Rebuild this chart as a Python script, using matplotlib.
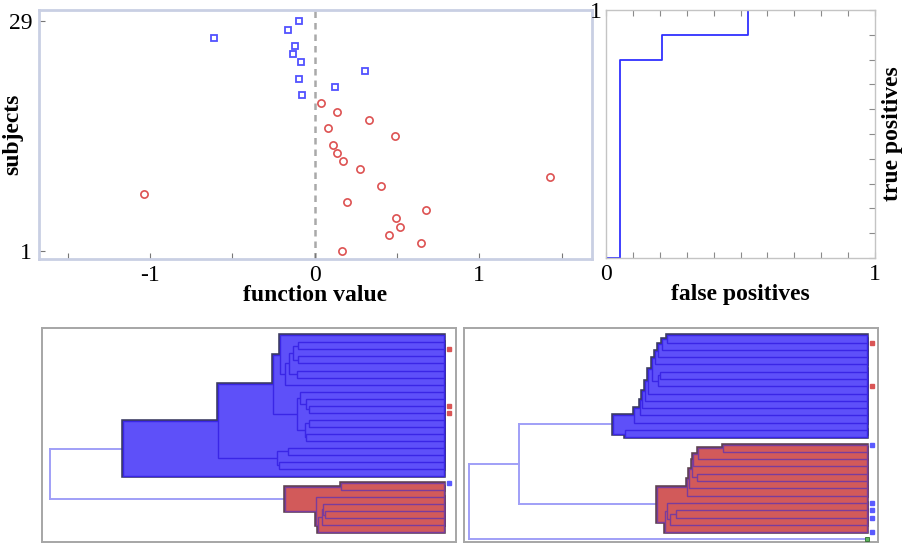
import numpy as np
import matplotlib
matplotlib.use('Agg')
import matplotlib.pyplot as plt
from matplotlib.patches import Rectangle

plt.rcParams['font.family'] = ['Liberation Serif', 'DejaVu Serif']

# ---------------- data ----------------
subjects = list(range(29, 0, -1))
function_value = [-0.093, -0.163, -0.612, -0.122, -0.132, -0.084, 0.305, -0.098, 0.126, -0.076,
                  0.041, 0.138, 0.328, 0.083, 0.489, 0.113, 0.133, 0.173, 0.273, 1.428,
                  0.401, -1.036, 0.196, 0.676, 0.494, 0.517, 0.452, 0.645, 0.165]
subject_class = ['B'] * 10 + ['R'] * 19

roc_fpr = [0.0, 0.053, 0.053, 0.21, 0.21, 0.527, 0.527, 1.0]
roc_tpr = [0.0, 0.0, 0.8, 0.8, 0.9, 0.9, 1.0, 1.0]

n_leaves = 29
# linkage: (child_a, child_b, merge height); new node ids start at n_leaves
left_links = [
    (1, 2, 0.372), (3, 4, 0.371), (29, 30, 0.3825), (5, 6, 0.373), (31, 32, 0.3934),
    (33, 7, 0.4036), (0, 34, 0.4162), (10, 11, 0.3426), (9, 36, 0.3503), (8, 37, 0.3668),
    (12, 13, 0.3419), (14, 15, 0.3503), (39, 40, 0.3528), (38, 41, 0.3739), (35, 42, 0.4348),
    (16, 17, 0.3959), (18, 19, 0.4188), (44, 45, 0.4246), (43, 46, 0.5736), (47, 20, 0.8155),
    (21, 22, 0.2622), (25, 26, 0.302), (24, 50, 0.3071), (51, 27, 0.3109), (52, 28, 0.319),
    (23, 53, 0.3249), (49, 54, 0.4036), (48, 55, 1.0),
]
left_cluster_roots = [48, 55]
left_cluster_colors = ['blue', 'red']
left_marker_rows = [2, 10, 11, 21]
left_marker_colors = ['red', 'red', 'red', 'blue']

right_links = [
    (0, 1, 0.502), (29, 2, 0.5146), (30, 3, 0.5229), (31, 4, 0.5313), (5, 6, 0.5188),
    (33, 7, 0.5246), (32, 34, 0.5396), (35, 8, 0.5505), (36, 9, 0.5564), (37, 10, 0.5631),
    (38, 11, 0.5706), (39, 12, 0.584), (13, 14, 0.6066), (40, 41, 0.6359),
    (15, 16, 0.3614), (43, 17, 0.4227), (44, 18, 0.4352), (19, 20, 0.4267), (45, 46, 0.4393),
    (47, 21, 0.446), (48, 22, 0.4518), (24, 25, 0.4787), (50, 26, 0.4938), (23, 51, 0.502),
    (52, 27, 0.5063), (49, 53, 0.5271), (42, 54, 0.8743), (55, 28, 1.0),
]
right_cluster_roots = [42, 54]
right_cluster_colors = ['blue', 'red']
right_singleton_leaf = 28
right_marker_rows = [1, 7, 15, 23, 24, 25, 27]
right_marker_colors = ['red', 'red', 'blue', 'blue', 'blue', 'blue', 'blue']

# ---------------- styles ----------------
BLUE_PT = '#5252ff'
RED_PT = '#dd5252'
STYLE = {
    'blue': dict(face='#5e50f9', line='#3a26e6', border='#3c3c62'),
    'red': dict(face='#d25a5a', line='#7a3c9c', border='#5e4250'),
}
MARK = {'blue': '#5a5aff', 'red': '#d95555'}
UPPER = '#a09ff7'
FS = 17

W, H = 902, 543
fig = plt.figure(figsize=(W / 100, H / 100), dpi=100)


def ax_px(x0, y0, x1, y1):
    return fig.add_axes([x0 / W, 1 - y1 / H, (x1 - x0) / W, (y1 - y0) / H])


# ---------------- top-left scatter ----------------
ax1 = ax_px(39, 10, 592, 258.5)
ax1.set_xlim(-1.675, 1.685)
ax1.set_ylim(0.1, 30.4)
ax1.axvline(0, color='#a9a9a9', lw=1.8, dashes=(2.6, 2.0), zorder=1)
for v, s, c in zip(function_value, subjects, subject_class):
    if c == 'B':
        ax1.plot(v, s, 's', ms=4.0, mfc='white', mec=BLUE_PT, mew=1.3, zorder=3)
    else:
        ax1.plot(v, s, 'o', ms=5.2, mfc='white', mec=RED_PT, mew=1.2, zorder=3)
for sp in ax1.spines.values():
    sp.set_color('#c9cfe3')
    sp.set_linewidth(2)
ax1.set_xticks([-1, 0, 1])
ax1.set_xticklabels(['-1', '0', '1'])
ax1.set_xticks([-1.5, -0.5, 0.5, 1.5], minor=True)
ax1.set_yticks([1, 29])
ax1.set_yticklabels(['1', '29'])
ax1.tick_params(which='both', direction='in', length=4, width=0.8, color='#777777',
                labelsize=FS, pad=5)
ax1.set_xlabel('function value', fontsize=FS, fontweight='bold')
ax1.set_ylabel('subjects', fontsize=FS, fontweight='bold')
ax1.xaxis.set_label_coords(0.5, -0.105)
ax1.yaxis.set_label_coords(-0.028, 0.5)

# ---------------- top-right ROC ----------------
ax2 = ax_px(606, 10, 875, 258)
ax2.plot(roc_fpr, roc_tpr, color='#3030ff', lw=1.3)
ax2.set_xlim(0, 1)
ax2.set_ylim(0, 1)
ticks = np.round(np.arange(0, 1.0001, 0.1), 1)
ax2.set_xticks(ticks)
ax2.set_xticklabels(['0'] + [''] * 9 + ['1'])
ax2.set_yticks(ticks)
ax2.set_yticklabels([''] * 10 + ['1'])
ax2.tick_params(direction='in', length=4, width=0.8, color='#8a8a8a', top=True, right=True,
                labelsize=FS, pad=4)
ax2.tick_params(axis='y', left=False, pad=3)
for sp in ax2.spines.values():
    sp.set_color('#c4c4c4')
    sp.set_linewidth(1)
ax2.set_xlabel('false positives', fontsize=FS, fontweight='bold')
ax2.xaxis.set_label_coords(0.5, -0.105)
ax2.yaxis.set_label_position('right')
ax2.set_ylabel('true positives', fontsize=FS, fontweight='bold', rotation=90)
ax2.yaxis.set_label_coords(1.025, 0.5)


# ---------------- dendrograms ----------------
def tree_layout(n, links):
    pos = {i: float(i) for i in range(n)}
    hgt = {i: 0.0 for i in range(n)}
    kids = {}
    for k, (a, b, h) in enumerate(links):
        nid = n + k
        pos[nid] = (pos[a] + pos[b]) / 2.0
        hgt[nid] = h
        kids[nid] = (a, b)
    return pos, hgt, kids


def subtree(node, kids):
    if node not in kids:
        return []
    a, b = kids[node]
    return [node] + subtree(a, kids) + subtree(b, kids)


def draw_tree(ax, n, links, roots, colors, mrows, mcols, mx):
    pos, hgt, kids = tree_layout(n, links)
    in_cluster = set()
    z = 3.0
    for r, cname in zip(roots, colors):
        st = STYLE[cname]
        nodes = sorted(subtree(r, kids), key=lambda k: -hgt[k])
        for k in nodes:
            a, b = kids[k]
            y0, y1 = sorted((pos[a], pos[b]))
            ax.add_patch(Rectangle((0, y0), hgt[k], y1 - y0, facecolor='none',
                                   edgecolor=st['border'], lw=2.6, zorder=2))
        for k in nodes:
            a, b = kids[k]
            y0, y1 = sorted((pos[a], pos[b]))
            z += 0.001
            ax.add_patch(Rectangle((0, y0), hgt[k], y1 - y0, facecolor=st['face'],
                                   edgecolor=st['line'], lw=1.0, zorder=z))
        in_cluster.update(nodes)
    for k, (a, b) in kids.items():
        if k in in_cluster:
            continue
        ax.plot([hgt[k], hgt[k]], [pos[a], pos[b]], color=UPPER, lw=1.4, zorder=1)
        for c in (a, b):
            ax.plot([hgt[k], hgt[c]], [pos[c], pos[c]], color=UPPER, lw=1.4, zorder=1)
    for r, c in zip(mrows, mcols):
        ax.plot(mx, r, 's', ms=3.3, color=MARK[c], mec=MARK[c], zorder=10)
    return pos


def style_box(ax):
    ax.set_xticks([])
    ax.set_yticks([])
    for sp in ax.spines.values():
        sp.set_color('#a6a6a6')
        sp.set_linewidth(1.4)


ax3 = ax_px(42, 328, 456, 541.7)
draw_tree(ax3, n_leaves, left_links, left_cluster_roots, left_cluster_colors,
          left_marker_rows, left_marker_colors, -0.0135)
ax3.set_xlim(1.021, -0.0305)
ax3.set_ylim(29.35, -1.05)
style_box(ax3)

ax4 = ax_px(463.5, 328, 877.7, 541.7)
draw_tree(ax4, n_leaves, right_links, right_cluster_roots, right_cluster_colors,
          right_marker_rows, right_marker_colors, -0.0126)
ax4.plot(0, right_singleton_leaf, 's', ms=3.3, color='#5cb85c', mec='#2e6b2e', mew=0.6, zorder=10)
ax4.set_xlim(1.0126, -0.0276)
ax4.set_ylim(28.32, -1.0)
style_box(ax4)

fig.savefig('out.png', dpi=100)
